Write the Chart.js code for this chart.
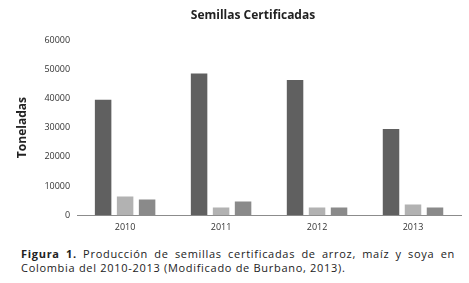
<!DOCTYPE html>
<html>
<head>
<meta charset="utf-8">
<script src="https://cdn.jsdelivr.net/npm/chart.js@4/dist/chart.umd.min.js"></script>
<style>
  body { margin: 0; background: #fff; font-family: "Open Sans", sans-serif; }
  #wrap { position: relative; width: 469px; height: 283px; }
  #box { position: absolute; left: 0; top: 0; width: 469px; height: 240px; }
  #title { position: absolute; left: 153px; width: 200px; top: 6px; text-align: center;
           font-size: 12px; font-weight: bold; color: #222; }
  #caption { position: absolute; left: 21px; width: 434px; top: 247px; font-size: 11px;
             letter-spacing: 0.7px; line-height: 14px; color: #222;
             text-align: justify; text-align-last: left; }
</style>
</head>
<body>
<div id="wrap">
  <div id="box"><canvas id="seedChart"></canvas></div>
  <div id="title">Semillas Certificadas</div>
  <div id="caption"><b>Figura 1.</b> Producción de semillas certificadas de arroz, maíz y soya en Colombia del 2010-2013 (Modificado de Burbano, 2013).</div>
</div>
<script>
var YEARS = ['2010', '2011', '2012', '2013'];
var ARROZ = [39500, 48500, 46300, 29500];
var MAIZ = [6400, 2600, 2600, 3700];
var SOYA = [5400, 4700, 2600, 2600];

var seedChart = new Chart(document.getElementById('seedChart'), {
    type: 'bar',
    data: {
        labels: YEARS,
        datasets: [
            { label: 'Arroz', data: ARROZ, backgroundColor: '#606060' },
            { label: 'Maíz', data: MAIZ, backgroundColor: '#b2b2b2' },
            { label: 'Soya', data: SOYA, backgroundColor: '#8a8a8a' }
        ]
    },
    options: {
        responsive: true,
        maintainAspectRatio: false,
        animation: false,
        categoryPercentage: 0.6875,
        barPercentage: 0.75,
        layout: { padding: { left: 15, right: 8, top: 40, bottom: 0 } },
        plugins: {
            legend: { display: false },
            tooltip: { enabled: false }
        },
        scales: {
            x: {
                grid: { display: false, drawTicks: false },
                border: { color: '#8c8c8c', width: 1 },
                ticks: { color: '#333', font: { family: 'Open Sans', size: 9 }, padding: 7 }
            },
            y: {
                min: 0,
                max: 60000,
                grid: { display: false, drawTicks: false },
                border: { display: false },
                ticks: {
                    stepSize: 10000,
                    color: '#333',
                    font: { family: 'Open Sans', size: 9 },
                    padding: 7,
                    callback: function(value) { return String(value); }
                },
                title: {
                    display: true,
                    text: 'Toneladas',
                    color: '#222',
                    font: { family: 'Open Sans', size: 12, weight: 'bold' },
                    padding: { top: 0, bottom: 8 }
                }
            }
        }
    }
});
</script>
</body>
</html>
